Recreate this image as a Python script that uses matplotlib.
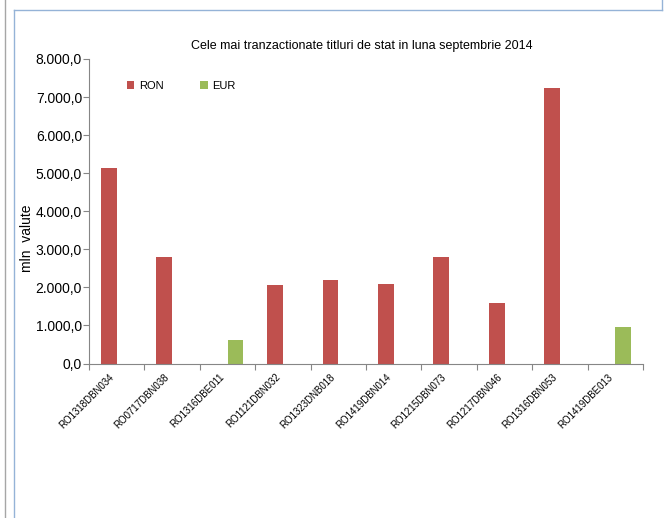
import matplotlib
matplotlib.use("Agg")
import matplotlib.pyplot as plt
from matplotlib.lines import Line2D
import numpy as np

plt.rcParams['font.family'] = ['Liberation Sans', 'DejaVu Sans']

categories = ["RO1318DBN034", "RO0717DBN038", "RO1316DBE011", "RO1121DBN032",
              "RO1323DNB018", "RO1419DBN014", "RO1215DBN073", "RO1217DBN046",
              "RO1316DBN053", "RO1419DBE013"]
ron = [5140, 2800, 0, 2065, 2200, 2090, 2800, 1590, 7250, 0]
eur = [0, 0, 620, 0, 0, 0, 0, 0, 0, 960]
yticks = [0, 1000, 2000, 3000, 4000, 5000, 6000, 7000, 8000]
yticklabels = ["0,0", "1.000,0", "2.000,0", "3.000,0", "4.000,0",
               "5.000,0", "6.000,0", "7.000,0", "8.000,0"]

W, H = 667, 518
fig = plt.figure(figsize=(W / 100, H / 100), dpi=100)
ax = fig.add_axes([89 / W, (H - 363.5) / H, 554 / W, 304.5 / H])

x = np.arange(len(categories))
bw = 0.285
ax.bar(x - bw / 2, ron, width=bw, color='#C0504D', label='RON')
ax.bar(x + bw / 2, eur, width=bw, color='#9BBB59', label='EUR')

ax.set_xlim(-0.5, len(categories) - 0.5)
ax.set_ylim(0, 8000)
ax.set_yticks(yticks)
ax.set_yticklabels(yticklabels, fontsize=10)
ax.set_xticks(np.arange(len(categories) + 1) - 0.5)
ax.set_xticklabels([])
ax.set_xticks(x - 0.145, minor=True)
ax.set_xticklabels(categories, minor=True, rotation=45, ha='right',
                   va='top', rotation_mode='anchor', fontsize=7)
ax.tick_params(axis='x', which='minor', length=0, pad=6)
ax.tick_params(axis='x', which='major', length=4, color='#868686')
ax.tick_params(axis='y', length=4, color='#868686', pad=1)
for s in ['top', 'right']:
    ax.spines[s].set_visible(False)
for s in ['left', 'bottom']:
    ax.spines[s].set_color('#868686')
ax.set_ylabel("mln  valute", fontsize=10)
ax.yaxis.set_label_coords((34 - 89) / 554, 0.412)

fig.text(362 / W, 1 - 46 / H, "Cele mai tranzactionate titluri de stat in luna septembrie 2014",
         ha='center', va='center', fontsize=9)

ax.legend(loc='upper left', bbox_to_anchor=(0.05, 0.96), ncol=2, frameon=False,
          fontsize=8, handlelength=0.7, handleheight=0.7, columnspacing=3.3,
          handletextpad=0.4)

# surrounding frame lines of the screenshot
fig.add_artist(Line2D([5 / W, 5 / W], [0, 1], color='#a6a6a6', lw=1))
fig.add_artist(Line2D([14 / W, 14 / W], [0, 1 - 10 / H], color='#95b3d7', lw=1))
fig.add_artist(Line2D([14 / W, 662 / W], [1 - 10 / H, 1 - 10 / H], color='#95b3d7', lw=1))
fig.add_artist(Line2D([662 / W, 662 / W], [1 - 10 / H, 1], color='#95b3d7', lw=1))

fig.savefig("out.png", dpi=100)
